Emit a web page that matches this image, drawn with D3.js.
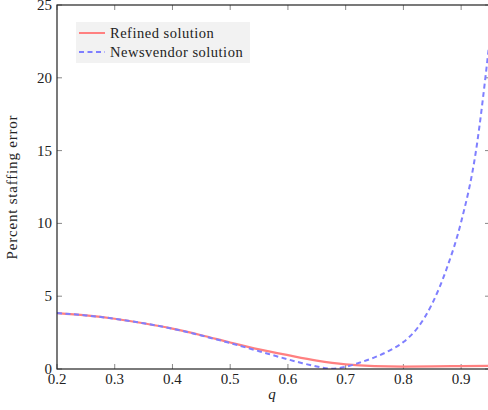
<!DOCTYPE html>
<html>
<head>
<meta charset="utf-8">
<script src="https://cdn.jsdelivr.net/npm/d3@7"></script>
<style>
  body { margin: 0; background: #fff; }
  svg text { font-family: "Liberation Serif", "DejaVu Serif", serif; fill: #222; }
</style>
</head>
<body>
<div id="chart"></div>
<script>
// data
var refinedQ = [0.2, 0.25, 0.3, 0.35, 0.4, 0.45, 0.5, 0.55, 0.6, 0.65, 0.7, 0.75, 0.8, 0.85, 0.9, 0.95]
var refinedErr = [3.84, 3.68, 3.45, 3.14, 2.77, 2.32, 1.82, 1.35, 0.95, 0.58, 0.32, 0.2, 0.17, 0.18, 0.2, 0.22]

var newsQ = [0.2, 0.25, 0.3, 0.35, 0.4, 0.45, 0.5, 0.55, 0.6, 0.625, 0.65, 0.675, 0.7, 0.725, 0.75, 0.775, 0.8, 0.825, 0.85, 0.875, 0.9, 0.925, 0.95]
var newsErr = [3.84, 3.68, 3.45, 3.14, 2.77, 2.3, 1.78, 1.22, 0.66, 0.4, 0.17, 0.02, 0.15, 0.45, 0.8, 1.25, 1.85, 2.85, 4.5, 6.9, 10.1, 14.8, 22.8]

var xTicks = [0.2, 0.3, 0.4, 0.5, 0.6, 0.7, 0.8, 0.9]
var yTicks = [0, 5, 10, 15, 20, 25]
var seriesNames = ["Refined solution", "Newsvendor solution"]

var W = 488, H = 410
// plot box (window.top is read only, so no "top" here)
var pL = 57, pR = 490, pT = 5, pB = 369

var svg = d3.select("#chart").append("svg")
    .attr("width", W).attr("height", H)

var x = d3.scaleLinear().domain([0.2, 0.95]).range([pL, pR])
var y = d3.scaleLinear().domain([0, 25]).range([pB, pT])

// ticks (inward, on all four sides)
var tickLen = 5
var tg = svg.append("g").attr("stroke", "#888").attr("stroke-width", 1)
xTicks.forEach(function(t){
    tg.append("line").attr("x1", x(t)).attr("x2", x(t)).attr("y1", pB).attr("y2", pB - tickLen)
    tg.append("line").attr("x1", x(t)).attr("x2", x(t)).attr("y1", pT).attr("y2", pT + tickLen)
})
yTicks.forEach(function(t){
    tg.append("line").attr("x1", pL).attr("x2", pL + tickLen).attr("y1", y(t)).attr("y2", y(t))
    tg.append("line").attr("x1", pR).attr("x2", pR - tickLen).attr("y1", y(t)).attr("y2", y(t))
})

// tick labels
svg.append("g").selectAll("text").data(xTicks).join("text")
    .attr("x", d => x(d)).attr("y", pB + 15)
    .attr("text-anchor", "middle").style("font-size", "15px")
    .text(d => d3.format(".1f")(d))
svg.append("g").selectAll("text").data(yTicks).join("text")
    .attr("x", pL - 5).attr("y", d => y(d) + 5)
    .attr("text-anchor", "end").style("font-size", "15px")
    .text(d => d)

// axis labels
svg.append("text").attr("x", 272).attr("y", 399)
    .attr("text-anchor", "middle").style("font-size", "15px").style("font-style", "italic")
    .text("q")
svg.append("text")
    .attr("transform", `translate(17, ${(pT + pB) / 2}) rotate(-90)`)
    .attr("text-anchor", "middle").style("font-size", "15px").style("letter-spacing", "0.8px")
    .text("Percent staffing error")

// lines
svg.append("clipPath").attr("id", "clip").append("rect")
    .attr("x", pL).attr("y", pT).attr("width", pR - pL).attr("height", pB - pT)

var line = d3.line().x(d => x(d[0])).y(d => y(d[1])).curve(d3.curveMonotoneX)

svg.append("path").datum(d3.zip(refinedQ, refinedErr))
    .attr("d", line).attr("fill", "none")
    .attr("stroke", "#ff8080").attr("stroke-width", 2.2)
    .attr("clip-path", "url(#clip)")
svg.append("path").datum(d3.zip(newsQ, newsErr))
    .attr("d", line).attr("fill", "none")
    .attr("stroke", "#7f7fff").attr("stroke-width", 2)
    .attr("stroke-dasharray", "5,3.5")
    .attr("clip-path", "url(#clip)")

// axis frame
svg.append("rect").attr("x", pL).attr("y", pT)
    .attr("width", pR - pL).attr("height", pB - pT)
    .attr("fill", "none").attr("stroke", "#222").attr("stroke-width", 1.2)

// legend
var lg = svg.append("g")
lg.append("rect").attr("x", 76).attr("y", 22).attr("width", 174).attr("height", 41)
    .attr("fill", "#f2f2f2")
seriesNames.forEach(function(name, i){
    var ly = 33 + i * 19
    lg.append("line").attr("x1", 79).attr("x2", 105).attr("y1", ly).attr("y2", ly)
        .attr("stroke", i == 0 ? "#ff8080" : "#7f7fff").attr("stroke-width", 2)
        .attr("stroke-dasharray", i == 0 ? null : "5,3.5")
    lg.append("text").attr("x", 110).attr("y", ly + 5)
        .style("font-size", "14.5px").style("letter-spacing", "0.5px").text(name)
})
</script>
</body>
</html>
